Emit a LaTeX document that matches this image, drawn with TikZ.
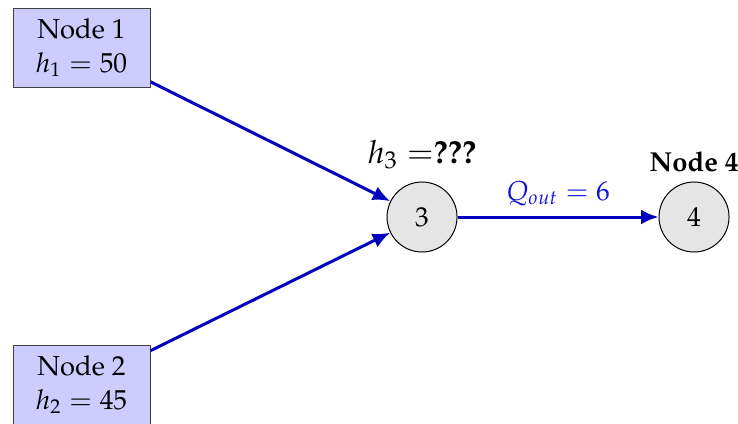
\documentclass[tikz,border=0pt,11pt]{standalone}
\usepackage[T1]{fontenc}
\usepackage{mathpazo}
\usepackage{tikz}
\usetikzlibrary{positioning,arrows.meta}
\usepackage{xcolor}
\definecolor{flowBlue}{RGB}{0,0,190}
\definecolor{labelBlue}{RGB}{20,20,215}

\begin{document}
\begin{tikzpicture}[
    boxNode/.style={rectangle, draw=black!75, fill=blue!20, minimum width=54.8pt, minimum height=31.6pt, align=center, inner sep=2pt},
    circNode/.style={circle, draw=black, fill=gray!20, minimum size=28pt, inner sep=0pt},
    flowArrow/.style={-{Latex[length=7pt,width=6pt]}, very thick, draw=flowBlue}
]
    \useasboundingbox (0,0) rectangle (10.373,-5.946);

    \node[boxNode] (n1) at (1.146, -0.668) {Node 1\\ $h_1 = 50$};
    \node[boxNode] (n2) at (1.146, -5.405) {Node 2\\ $h_2 = 45$};

    \node[circNode] (c3) at (5.932, -3.050) {3};
    \node[circNode] (c4) at (9.755, -3.050) {4};

    \node[above=1pt of c3, font=\fontsize{12.8}{15}\selectfont] (h3lbl) {$h_3 =$\textbf{???}};
    \node[above=0pt of c4, font=\bfseries] (n4lbl) {Node 4};

    \draw[flowArrow] (n1) -- (c3);
    \draw[flowArrow] (n2) -- (c3);
    \draw[flowArrow] (c3) -- node[midway, above, text=labelBlue] (qlbl) {$Q_{out} = 6$} (c4);
\end{tikzpicture}
\end{document}
